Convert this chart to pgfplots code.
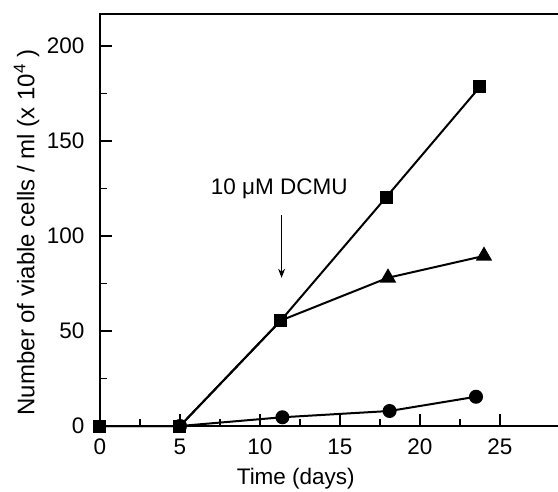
\documentclass[border=0pt]{standalone}
\usepackage{fontspec}
\setmainfont{Liberation Sans}
\usepackage{pgfplots}
\pgfplotsset{compat=1.18}
\usetikzlibrary{arrows.meta}

\newcommand{\chartfont}{\fontsize{22.5}{26}\selectfont}
\newcommand{\ylabfont}{\fontsize{24}{28}\selectfont}

\begin{document}
\begin{tikzpicture}
  \begin{axis}[
    scale only axis,
    width=464pt, height=412pt,
    xmin=0, xmax=29,
    ymin=0, ymax=216.8,
    xtick={0,5,10,15,20,25},
    ytick={0,50,100,150,200},
    minor tick num=1,
    tick pos=left,
    major tick length=12pt,
    minor tick length=7pt,
    axis line style={line width=2pt},
    every tick/.style={line width=1.2pt, black},
    tick label style={font=\chartfont},
    label style={font=\chartfont},
    /pgf/number format/assume math mode=true,
    clip=false,
    xlabel={Time (days)},
    ylabel={Number of viable cells / ml (x 10\textsuperscript{4} )},
    xlabel style={at={(axis description cs:0.422,-0.128)}, anchor=center},
    ylabel style={font=\ylabfont, at={(axis description cs:-0.158,0.47)}, anchor=center},
    yticklabel style={xshift=-12pt},
    xticklabel style={yshift=-9pt},
  ]
  % triangles (shares first points with squares)
  \addplot[black, line width=2pt, mark=triangle*, mark size=7.5pt,
    mark indices={4,5}] coordinates {
    (0,0) (5,0) (11.3,55.5) (18.0,78) (24.0,89.5)};
  % squares
  \addplot[black, line width=2pt, mark=square*, mark size=5.5pt] coordinates {
    (0,0) (5,0) (11.3,55.5) (17.9,120.5) (23.75,178.5)};
  % circles
  \addplot[black, line width=2pt, mark=*, mark size=6pt] coordinates {
    (5,0) (11.4,4.6) (18.1,7.9) (23.5,15.4)};

  \node[font=\chartfont] at (axis cs:11.2,125) {10 μM DCMU};
  \draw[-{Stealth[length=9pt,width=7pt]}, line width=1pt]
    (axis cs:11.35,111) -- (axis cs:11.35,78);
  \end{axis}
  \pgfresetboundingbox
  \path[use as bounding box] (-100pt,-65pt) rectangle (458pt,426pt);
\end{tikzpicture}
\end{document}
